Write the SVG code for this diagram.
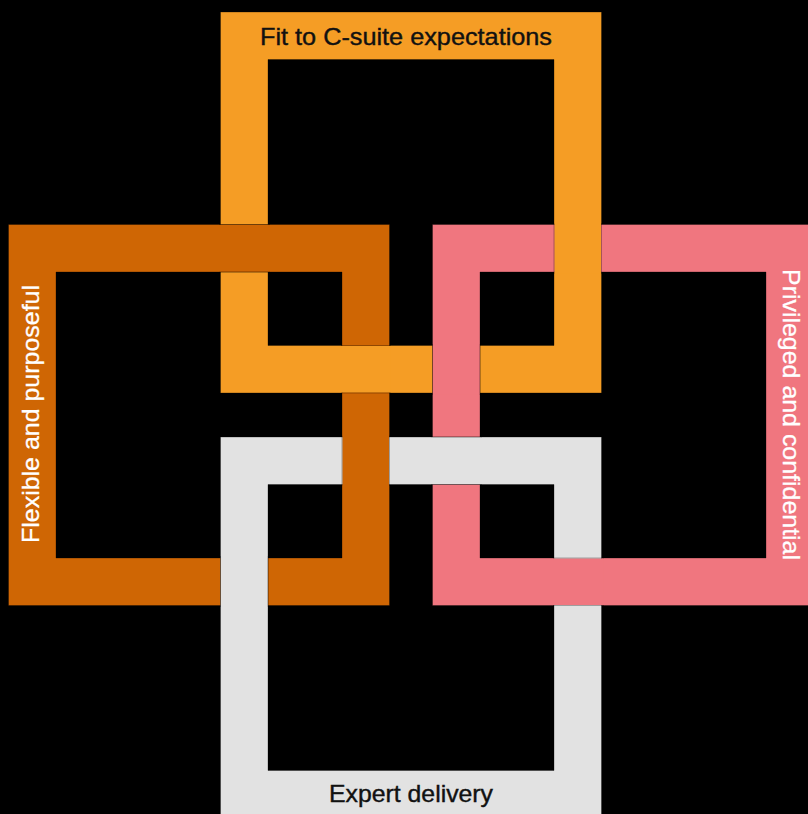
<svg xmlns="http://www.w3.org/2000/svg" width="808" height="814" viewBox="0 0 808 814">
<style>
.frame{fill-rule:evenodd;stroke:#000;stroke-opacity:0.3;stroke-width:1}
.edge{fill:none;stroke:#000;stroke-opacity:0.3;stroke-width:1}
.o{fill:#F59D25}.d{fill:#CF6604}.p{fill:#F0767F}.g{fill:#E2E2E2}
.lbl{font-family:"Liberation Sans",Arial,sans-serif;font-size:24px;text-anchor:middle}
.dark{fill:#111;stroke:#111;stroke-width:0.4}
.light{fill:#fff;stroke:#fff;stroke-width:0.3}
</style>
<rect width="808" height="814" fill="#000"/>
<g id="frame-top">
<path class="frame o" d="M220.5 12H601.5V393H220.5Z M268 59.5H554V345.5H268Z"/>
<text class="lbl dark" x="406" y="45" textLength="292" lengthAdjust="spacingAndGlyphs">Fit to C-suite expectations</text>
</g>
<g id="frame-left">
<path class="frame d" d="M8.5 224.5H389.5V605.5H8.5Z M56 272H342V558H56Z"/>
<text class="lbl light" transform="translate(38.5 414) rotate(-90)" textLength="258" lengthAdjust="spacingAndGlyphs">Flexible and purposeful</text>
</g>
<g id="frame-right">
<path class="frame p" d="M432.5 224.5H813.5V605.5H432.5Z M480 272H766V558H480Z"/>
<text class="lbl light" transform="translate(782.5 414.5) rotate(90)" textLength="291" lengthAdjust="spacingAndGlyphs">Privileged and confidential</text>
</g>
<g id="frame-bottom">
<path class="frame g" d="M220.5 437H601.5V818H220.5Z M268 484.5H554V770.5H268Z"/>
<text class="lbl dark" x="411" y="802" textLength="164" lengthAdjust="spacingAndGlyphs">Expert delivery</text>
</g>
<g id="crossings">
<rect class="d" x="219" y="225" width="50.5" height="46.5"/>
<path class="edge" d="M219 224.5H270M219 272H270"/>
<rect class="o" x="341" y="346" width="49.5" height="46.5"/>
<path class="edge" d="M341 345.5H391M341 393H391"/>
<rect class="o" x="554.5" y="223" width="46.5" height="50.5"/>
<path class="edge" d="M554 223V274M601.5 223V274"/>
<rect class="p" x="433" y="344" width="46.5" height="50.5"/>
<path class="edge" d="M432.5 344V395M480 344V395"/>
<rect class="g" x="221" y="556" width="46.5" height="51"/>
<path class="edge" d="M220.5 556V607M268 556V607"/>
<rect class="d" x="342.5" y="435.5" width="46.5" height="50.5"/>
<path class="edge" d="M342 435.5V486M389.5 435.5V486"/>
<rect class="g" x="431" y="437.5" width="50.5" height="46.5"/>
<path class="edge" d="M431 437H482M431 484.5H482"/>
<rect class="p" x="553" y="558.5" width="50.5" height="46.5"/>
<path class="edge" d="M553 558H604M553 605.5H604"/>
</g>
</svg>
